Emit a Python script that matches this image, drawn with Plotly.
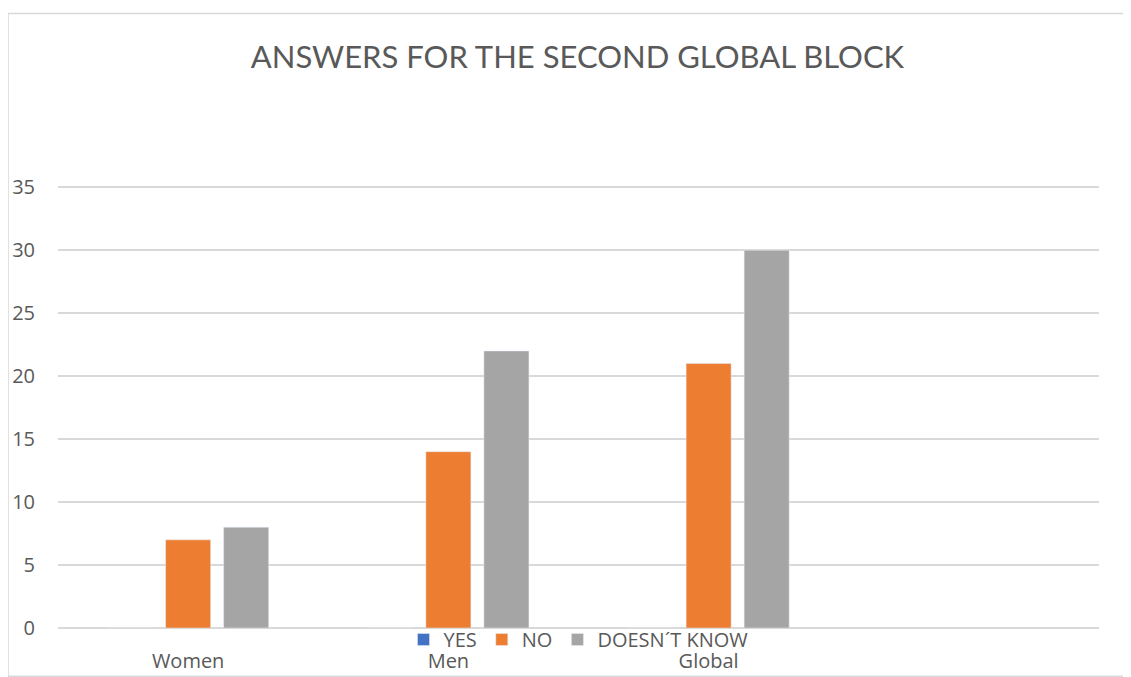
import plotly.graph_objects as go

categories = ["Women", "Men", "Global", " "]
yes_vals = [0, 0, 0, None]
no_vals = [7, 14, 21, None]
dk_vals = [8, 22, 30, None]
y_ticks = [0, 5, 10, 15, 20, 25, 30, 35]

TEXT = "#595959"
GRID = "#D9D9D9"
FONT = "Open Sans"
TITLE_FONT = "Lato"

fig = go.Figure()
fig.add_trace(go.Bar(name="YES", x=categories, y=yes_vals, marker_color="#4472C4"))
fig.add_trace(go.Bar(name="NO", x=categories, y=no_vals, marker_color="#ED7D31"))
fig.add_trace(go.Bar(name="DOESN´T KNOW", x=categories, y=dk_vals, marker_color="#A5A5A5"))

fig.update_layout(
    width=1131, height=677,
    paper_bgcolor="white", plot_bgcolor="white",
    margin=dict(l=50, r=40, t=178, b=57, autoexpand=False),
    barmode="group", bargap=0.331, bargroupgap=0.224,
    font=dict(family=FONT, color=TEXT, size=20),
    title=dict(text="ANSWERS FOR THE SECOND GLOBAL BLOCK", x=0.5035, xanchor="center",
               y=0.928, yanchor="middle", font=dict(size=31, color=TEXT, family=TITLE_FONT)),
    legend=dict(orientation="h", x=0.5, xanchor="center", y=0.018, yanchor="top",
                font=dict(size=20, color=TEXT), itemwidth=30, traceorder="normal",
                bgcolor="rgba(0,0,0,0)"),
    showlegend=True,
)
fig.update_xaxes(showgrid=False, showline=False, ticks="", ticklabelstandoff=19,
                 automargin=False, tickfont=dict(size=20, color=TEXT), fixedrange=True)
fig.update_yaxes(range=[0, 35.1], tickvals=y_ticks, showgrid=True, gridcolor=GRID, gridwidth=1.5,
                 zeroline=True, zerolinecolor=GRID, zerolinewidth=1.5, showline=False,
                 automargin=False, ticks="", ticklabelstandoff=22,
                 tickfont=dict(size=20, color=TEXT))

fig.add_shape(type="rect", xref="paper", yref="paper",
              x0=-0.048, x1=1.05, y0=-0.109, y1=1.39,
              line=dict(color="#D9D9D9", width=1.5), fillcolor="rgba(0,0,0,0)", layer="below")

fig.write_html("out.html")
